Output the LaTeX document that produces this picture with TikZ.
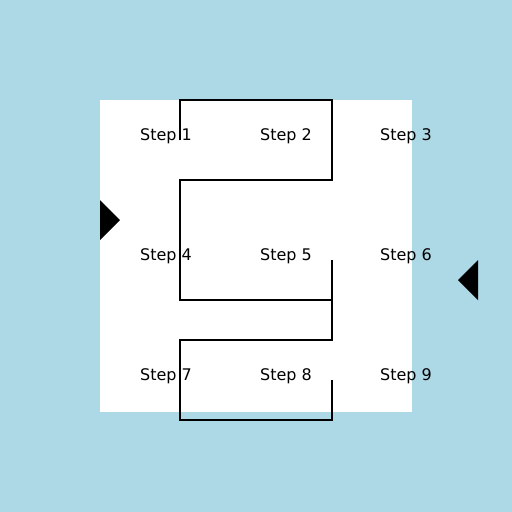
\documentclass[tikz,border=0pt]{standalone}
\usepackage{fontspec}
\setmainfont{DejaVu Sans}
\usepackage{tikz}
\usetikzlibrary{positioning,calc}
\usepackage{tkz-euclide}
\definecolor{bgblue}{RGB}{173,216,230}

\begin{document}
\begin{tikzpicture}[x=1pt,y=-1pt,
    steplabel/.style={anchor=base west,inner sep=0pt,font=\fontsize{16}{19}\selectfont},
    snake/.style={line width=2pt,black}]
    \useasboundingbox (0,0) rectangle (512,512);
    \fill[bgblue] (0,0) rectangle (512,512);
    \fill[white] (100,100) rectangle (412,412);

    \foreach \r in {0,1,2}{
      \foreach \c in {0,1,2}{
        \pgfmathtruncatemacro{\n}{3*\r+\c+1}
        \node[steplabel] (s\n) at (140+120*\c,140+120*\r) {Step \n};
      }
    }

    % upper run
    \tkzDefPoint(180,140){a}
    \tkzDefPoint(180,100){b}
    \tkzDefPoint(332,100){c}
    \tkzDefPoint(332,180){d}
    \tkzDefPoint(180,180){e}
    \tkzDefPoint(180,300){f}
    \tkzDefPoint(332,300){g}
    \draw[snake] (a) -- (b) -- (c) -- (d) -- (e) -- (f) -- (g);

    % lower run
    \tkzDefPoint(332,260){h}
    \tkzDefPoint(332,340){i}
    \tkzDefPoint(180,340){j}
    \tkzDefPoint(180,420){k}
    \tkzDefPoint(332,420){l}
    \tkzDefPoint(332,380){m}
    \draw[snake] (h) -- (i) -- (j) -- (k) -- (l) -- (m);

    % markers
    \tkzDefPoint(100,200){A}
    \tkzDefPoint(100,240){B}
    \tkzDefPoint(120,220){C}
    \fill[black] (A) -- (B) -- (C) -- cycle;
    \tkzDefPoint(478,260){A'}
    \tkzDefPoint(478,300){B'}
    \tkzDefPoint(458,280){C'}
    \fill[black] (A') -- (B') -- (C') -- cycle;
\end{tikzpicture}
\end{document}
